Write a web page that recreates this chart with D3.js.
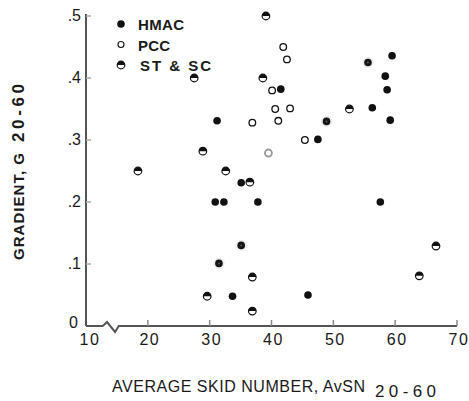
<!DOCTYPE html>
<html>
<head>
<meta charset="utf-8">
<script src="https://cdn.jsdelivr.net/npm/d3@7"></script>
<style>
  body { margin: 0; background: #fff; }
  text { font-family: "Liberation Sans", Arial, sans-serif; fill: #1a1a1a; }
</style>
</head>
<body>
<div id="chart"></div>
<script>
// Gradient vs average skid number, by surface type
var hmac = [[31.2, .331], [30.9, .2], [32.3, .2], [37.8, .2], [33.7, .048], [35.1, .231],
            [41.5, .382], [47.5, .301], [45.9, .05], [57.6, .2], [59.5, .436], [58.4, .403],
            [58.7, .381], [56.3, .352], [59.2, .332]];
var pcc = [[41.9, .45], [42.5, .43], [40.1, .38], [40.6, .35], [43.0, .351], [36.9, .328],
           [41.1, .331], [45.4, .30]];
var pccFaint = [[39.5, .279]];
var stsc = [[18.4, .25], [27.5, .40], [28.9, .282], [32.6, .25], [36.5, .232], [29.6, .048],
            [36.9, .079], [36.9, .024], [66.6, .129], [63.9, .081], [39.1, .5], [38.6, .40],
            [52.6, .35]];
// ST & SC points that printed dark in the scan
var stscDark = [[55.6, .425], [48.9, .33], [31.5, .101], [35.1, .13]];

var xTicks = [10, 20, 30, 40, 50, 60, 70];
var yTicks = [0, .1, .2, .3, .4, .5];
var yTickLabels = ["0", ".1", ".2", ".3", ".4", ".5"];
var legendNames = ["HMAC", "PCC", "ST & SC"];

var W = 469, H = 401;
var svg = d3.select("#chart").append("svg").attr("width", W).attr("height", H);

var x = d3.scaleLinear().domain([10, 70]).range([86, 457]);
var y = d3.scaleLinear().domain([0, .5]).range([326, 16]);
var ink = "#555";

// y axis line and inward ticks
svg.append("line").attr("x1", x(10)).attr("x2", x(10))
    .attr("y1", y(0)).attr("y2", y(.5) - 2)
    .attr("stroke", ink).attr("stroke-width", 2);
svg.selectAll(".ytick").data(yTicks.slice(1)).enter().append("line")
    .attr("x1", x(10)).attr("x2", x(10) + 5)
    .attr("y1", function(d) { return y(d); }).attr("y2", function(d) { return y(d); })
    .attr("stroke", "#aaa").attr("stroke-width", 1.5);
svg.selectAll(".ylab").data(yTicks).enter().append("text")
    .attr("x", function(d) { return d === 0 ? 78 : 81; })
    .attr("y", function(d) { return y(d) + (d === 0 ? 2 : 5); })
    .attr("text-anchor", "end")
    .style("font-size", "16px")
    .text(function(d, i) { return yTickLabels[i]; });

// x axis with scale break near the origin
var y0 = y(0);
var axisPath = d3.path();
axisPath.moveTo(x(10), y0);
axisPath.lineTo(x(12.7), y0);
axisPath.lineTo(x(13.4), y0 - 4);
axisPath.lineTo(x(14.7), y0 + 6);
axisPath.lineTo(x(15.3), y0);
axisPath.lineTo(x(70), y0);
svg.append("path").attr("d", axisPath.toString())
    .attr("fill", "none").attr("stroke", ink).attr("stroke-width", 2);
svg.selectAll(".xtick").data(xTicks.slice(1)).enter().append("line")
    .attr("x1", function(d) { return x(d); }).attr("x2", function(d) { return x(d); })
    .attr("y1", y0).attr("y2", y0 - 6)
    .attr("stroke", "#888").attr("stroke-width", 1.5);
svg.selectAll(".xlab").data(xTicks).enter().append("text")
    .attr("x", function(d) { return x(d) + (d === 10 ? 4 : 2); })
    .attr("y", y0 + 19)
    .attr("text-anchor", "middle")
    .style("font-size", "16px").style("letter-spacing", "1.5px")
    .text(function(d) { return d; });

// axis titles
var yt = svg.append("text")
    .attr("transform", "translate(24,0) rotate(-90)")
    .style("font-size", "15px").style("font-weight", "bold");
yt.append("tspan").attr("x", -260).attr("textLength", 107).attr("lengthAdjust", "spacing")
    .text("GRADIENT, G");
yt.append("tspan").attr("x", -142).attr("textLength", 58).attr("lengthAdjust", "spacing")
    .style("font-size", "17px")
    .text("20-60");

var xt = svg.append("text").attr("y", 392).style("font-size", "16px");
xt.append("tspan").attr("x", 112).attr("textLength", 253).attr("lengthAdjust", "spacing")
    .text("AVERAGE SKID NUMBER, AvSN");
xt.append("tspan").attr("x", 375).attr("y", 397).attr("textLength", 61).attr("lengthAdjust", "spacing")
    .style("font-size", "17px")
    .text("20-60");

// marker helpers
var r = 3.8;
function halfCircle(g, cx, cy) {
    g.append("circle").attr("cx", cx).attr("cy", cy).attr("r", r)
        .attr("fill", "#fff").attr("stroke", "#111").attr("stroke-width", 1.2);
    var p = d3.path();
    p.moveTo(cx - r, cy);
    p.arc(cx, cy, r, Math.PI, 2 * Math.PI);
    p.closePath();
    g.append("path").attr("d", p.toString()).attr("fill", "#111");
}

var pts = svg.append("g");
hmac.forEach(function(d) {
    pts.append("circle").attr("cx", x(d[0])).attr("cy", y(d[1])).attr("r", r).attr("fill", "#111");
});
pcc.forEach(function(d) {
    pts.append("circle").attr("cx", x(d[0])).attr("cy", y(d[1])).attr("r", r - 0.5)
        .attr("fill", "#fff").attr("stroke", "#111").attr("stroke-width", 1.3);
});
pccFaint.forEach(function(d) {
    pts.append("circle").attr("cx", x(d[0])).attr("cy", y(d[1])).attr("r", r - 0.3)
        .attr("fill", "#fff").attr("stroke", "#999").attr("stroke-width", 1.8);
});
stsc.forEach(function(d) { halfCircle(pts, x(d[0]), y(d[1])); });
stscDark.forEach(function(d) {
    pts.append("circle").attr("cx", x(d[0])).attr("cy", y(d[1])).attr("r", r + 2)
        .attr("fill", "#eee");
    pts.append("circle").attr("cx", x(d[0])).attr("cy", y(d[1])).attr("r", r).attr("fill", "#151515");
    pts.append("circle").attr("cx", x(d[0])).attr("cy", y(d[1])).attr("r", 1).attr("fill", "#555");
});

// legend
var legendWidths = [46, 32, 71];
var lg = svg.append("g");
legendNames.forEach(function(name, i) {
    var ly = 24 + i * 20.5, lx = 121;
    if (i === 0) lg.append("circle").attr("cx", lx).attr("cy", ly).attr("r", r).attr("fill", "#111");
    else if (i === 1) lg.append("circle").attr("cx", lx).attr("cy", ly).attr("r", r - 0.8)
        .attr("fill", "#fff").attr("stroke", "#111").attr("stroke-width", 1.1);
    else halfCircle(lg, lx, ly);
    lg.append("text").attr("x", i === 2 ? 140 : 138).attr("y", ly + 6)
        .attr("textLength", legendWidths[i]).attr("lengthAdjust", "spacing")
        .style("font-size", "15px").style("font-weight", "bold")
        .text(name);
});
</script>
</body>
</html>
